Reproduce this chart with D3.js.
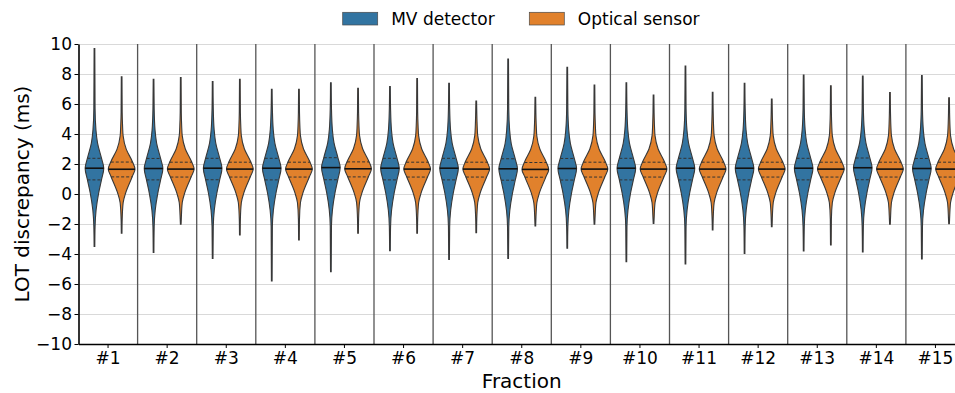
<!DOCTYPE html>
<meta charset="utf-8">
<style>
  body { margin: 0; background: #fff; }
  svg { font-family: "DejaVu Sans", sans-serif; }
  .grid line { stroke: #d9d9d9; stroke-width: 1; }
  .sep line { stroke: #555; stroke-width: 1.3; }
  .axis text { font-size: 17px; fill: #000; font-family: "DejaVu Sans", sans-serif; }
  .axis path, .axis line { stroke: #000; }
  .axis path { stroke-width: 1.6; }
</style>
<body>
<script src="https://d3js.org/d3.v7.min.js"></script>
<script>

var fractions = ["#1", "#2", "#3", "#4", "#5", "#6", "#7", "#8", "#9", "#10", "#11", "#12", "#13", "#14", "#15"];
var series = ["MV detector", "Optical sensor"];
var colors = ["#3274a1", "#e1812c"];
var yTicks = [-10, -8, -6, -4, -2, 0, 2, 4, 6, 8, 10];

// MV detector, per fraction
var mvMin = [-3.5, -3.89, -4.29, -5.8, -5.18, -3.78, -4.36, -4.29, -3.62, -4.51, -4.67, -3.96, -3.8, -3.87, -4.33];
var mvQ1  = [0.94, 0.94, 0.95, 0.94, 0.95, 0.94, 0.94, 0.92, 0.93, 0.94, 0.94, 0.94, 0.94, 0.95, 0.94];
var mvMed = [1.72, 1.7, 1.72, 1.72, 1.76, 1.72, 1.72, 1.68, 1.7, 1.72, 1.72, 1.72, 1.72, 1.75, 1.7];
var mvQ3  = [2.38, 2.37, 2.38, 2.38, 2.42, 2.38, 2.38, 2.35, 2.37, 2.38, 2.38, 2.38, 2.38, 2.4, 2.37];
var mvMax = [9.7, 7.65, 7.5, 6.98, 7.42, 7.16, 7.38, 9.0, 8.44, 7.42, 8.53, 7.38, 7.93, 7.87, 7.89];

// Optical sensor, per fraction
var optMin = [-2.62, -2.02, -2.73, -3.07, -2.62, -2.62, -2.58, -2.13, -2.02, -1.96, -2.4, -2.18, -3.4, -2.02, -1.98];
var optQ1  = [1.14, 1.13, 1.13, 1.13, 1.14, 1.13, 1.13, 1.12, 1.13, 1.13, 1.13, 1.13, 1.13, 1.13, 1.13];
var optMed = [1.65, 1.66, 1.66, 1.66, 1.68, 1.66, 1.66, 1.64, 1.66, 1.66, 1.66, 1.66, 1.66, 1.66, 1.66];
var optQ3  = [2.13, 2.12, 2.12, 2.12, 2.14, 2.12, 2.12, 2.1, 2.12, 2.12, 2.12, 2.12, 2.12, 2.12, 2.12];
var optMax = [7.82, 7.76, 7.64, 6.98, 7.04, 7.69, 6.2, 6.44, 7.27, 6.6, 6.78, 6.33, 7.22, 6.76, 6.42];

// violin outline: offset from the median (ms) and relative density
var mvShapeOffset  = [-3.9, -2.8, -1.67, -0.78, 0, 0.67, 1.67, 2.56, 4.0];
var mvShapeDensity = [0.045, 0.12, 0.31, 0.52, 0.69, 0.52, 0.23, 0.11, 0.045];
var optShapeOffset  = [-3.34, -2.24, -1.6, -0.48, 0, 0.52, 1.34, 2.23, 2.86, 3.8];
var optShapeDensity = [0.04, 0.11, 0.29, 0.79, 0.99, 0.79, 0.34, 0.11, 0.07, 0.04];
var tailDensity = 0.025;

var width = 955, height = 393;
var plotLeft = 78.5, plotTop = 44, plotBottom = 344, bandStep = 59.1;

var svg = d3.select("body").append("svg")
    .attr("width", width)
    .attr("height", height);

var x = d3.scaleBand().domain(fractions).range([plotLeft, plotLeft + bandStep * fractions.length]).padding(0);
var xSub = d3.scalePoint().domain(series).range([x.bandwidth() * 0.27, x.bandwidth() * 0.73]);
var y = d3.scaleLinear().domain([-10, 10]).range([plotBottom, plotTop]);
var w = d3.scaleLinear().domain([0, 1]).range([0, 13.5]);

var groups = [
    {name: series[0], color: colors[0], min: mvMin, q1: mvQ1, med: mvMed, q3: mvQ3, max: mvMax, offs: mvShapeOffset, dens: mvShapeDensity},
    {name: series[1], color: colors[1], min: optMin, q1: optQ1, med: optMed, q3: optQ3, max: optMax, offs: optShapeOffset, dens: optShapeDensity}
];

// horizontal grid
svg.append("g").attr("class", "grid")
    .selectAll("line").data(yTicks).enter().append("line")
    .attr("x1", plotLeft).attr("x2", width)
    .attr("y1", function(d) { return Math.round(y(d)) + 0.5; })
    .attr("y2", function(d) { return Math.round(y(d)) + 0.5; });

// separators between fractions
svg.append("g").attr("class", "sep")
    .selectAll("line").data(fractions.slice(1)).enter().append("line")
    .attr("x1", function(d) { return x(d); })
    .attr("x2", function(d) { return x(d); })
    .attr("y1", y(10)).attr("y2", y(-10));

function densAt(offs, dens, o) {
    var i = d3.bisectLeft(offs, o);
    if (i <= 0) return dens[0];
    if (i >= offs.length) return dens[dens.length - 1];
    var t = (o - offs[i - 1]) / (offs[i] - offs[i - 1]);
    return dens[i - 1] + t * (dens[i] - dens[i - 1]);
}

var violins = svg.append("g");
var inner = svg.append("g");

groups.forEach(function(g) {
    fractions.forEach(function(f, i) {
        var cx = x(f) + xSub(g.name);
        var pts = [{v: g.max[i], d: tailDensity}];
        for (var k = g.offs.length - 1; k >= 0; k--) {
            var v = g.med[i] + g.offs[k];
            if (v < g.max[i] && v > g.min[i]) pts.push({v: v, d: g.dens[k]});
        }
        pts.push({v: g.min[i], d: tailDensity});

        var area = d3.area()
            .curve(d3.curveMonotoneY)
            .y(function(p) { return y(p.v); })
            .x0(function(p) { return cx - w(p.d); })
            .x1(function(p) { return cx + w(p.d); });

        violins.append("path")
            .attr("d", area(pts))
            .attr("fill", g.color)
            .attr("stroke", "#383838")
            .attr("stroke-width", 1.1);

        [["q1", "3,2", 1], ["med", null, 1.6], ["q3", "3,2", 1]].forEach(function(q) {
            var val = g[q[0]][i];
            var hw = w(densAt(g.offs, g.dens, val - g.med[i]));
            inner.append("line")
                .attr("x1", cx - hw).attr("x2", cx + hw)
                .attr("y1", y(val)).attr("y2", y(val))
                .attr("stroke", q[0] === "med" ? "#111" : "#333")
                .attr("stroke-width", q[2])
                .attr("stroke-dasharray", q[1]);
        });
    });
});

// axes
svg.append("g").attr("class", "axis")
    .attr("transform", "translate(" + plotLeft + ",0)")
    .call(d3.axisLeft(y).tickValues(yTicks).tickSize(4).tickSizeOuter(0).tickPadding(2.5)
        .tickFormat(function(d) { return d < 0 ? "\u2212" + Math.abs(d) : d; }));

svg.append("g").attr("class", "axis")
    .attr("transform", "translate(0," + plotBottom + ")")
    .call(d3.axisBottom(x).tickSize(4).tickSizeOuter(0).tickPadding(4));

svg.append("text")
    .attr("transform", "rotate(-90)")
    .attr("x", -194).attr("y", 29)
    .attr("text-anchor", "middle")
    .style("font-size", "20px")
    .text("LOT discrepancy (ms)");

svg.append("text")
    .attr("x", (x.range()[0] + x.range()[1]) / 2).attr("y", 388)
    .attr("text-anchor", "middle")
    .style("font-size", "20px")
    .text("Fraction");

// legend
var legendX = [342.7, 529.3];
var legend = svg.append("g").selectAll("g").data(groups).enter().append("g")
    .attr("transform", function(d, i) { return "translate(" + legendX[i] + ",12.3)"; });
legend.append("rect")
    .attr("width", 35).attr("height", 12.7)
    .attr("fill", function(d) { return d.color; })
    .attr("stroke", "#4a4a4a").attr("stroke-width", 0.7);
legend.append("text")
    .attr("x", 48.5).attr("y", 12.7)
    .style("font-size", "17px")
    .text(function(d) { return d.name; });

</script>
</body>
